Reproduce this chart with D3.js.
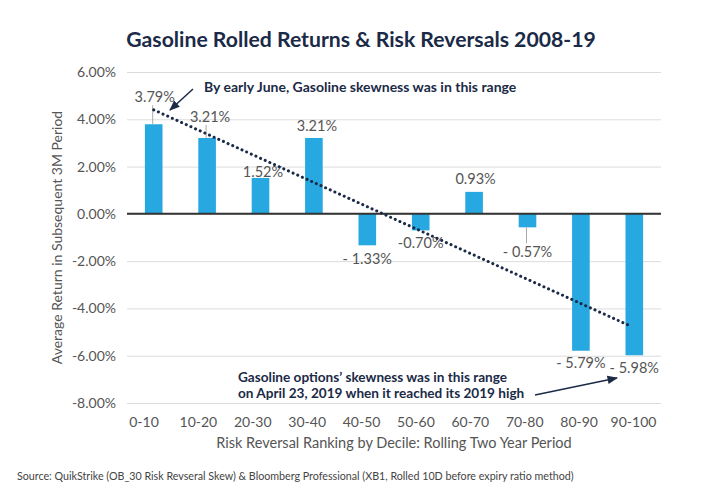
<!DOCTYPE html>
<html>
<head>
<meta charset="utf-8">
<script src="https://cdn.jsdelivr.net/npm/d3@7"></script>
<style>
  body { margin: 0; background: #fff; }
  text { font-family: Lato, "Open Sans", sans-serif; }
</style>
</head>
<body>
<div id="chart-area"></div>
<script>
// data
let deciles = ["0-10", "10-20", "20-30", "30-40", "40-50", "50-60", "60-70", "70-80", "80-90", "90-100"];
let returns = [3.79, 3.21, 1.52, 3.21, -1.33, -0.70, 0.93, -0.57, -5.79, -5.98];
let valueLabels = ["3.79%", "3.21%", "1.52%", "3.21%", "- 1.33%", "-0.70%", "0.93%", "- 0.57%", "- 5.79%", "- 5.98%"];
let yTicks = [6, 4, 2, 0, -2, -4, -6, -8];

// label nudges [dx, dy] from bar end, and which labels get a leader line
let labelNudge = [[1, -22], [3, -16], [2.5, -1], [3, -7], [0, 19], [0, 18], [1.5, -8], [0, 30], [0, 17], [0, 18]];
let leader = [true, true, false, false, false, false, false, true, false, false];

let w = 720, h = 500;
let pLeft = 127, pRight = 661, pTop = 72, pBottom = 403;
let navy = "#1b2a47";
let grey = "#555";

let svg = d3.select("#chart-area")
  .append("svg")
  .attr("width", w)
  .attr("height", h);

// scales
let x = d3.scaleBand()
  .domain(deciles)
  .range([pLeft, pRight])
  .paddingInner(0.67)
  .paddingOuter(0.335);

// category labels sit on a slightly wider spacing than the bars in the original
let xLab = d3.scalePoint()
  .domain(deciles)
  .range([143.5, 633]);

let y = d3.scaleLinear()
  .domain([-8, 6])
  .range([pBottom, pTop]);

// title
svg.append("text")
  .attr("x", 361).attr("y", 47)
  .attr("text-anchor", "middle")
  .attr("font-size", 21.2).attr("font-weight", 700)
  .attr("fill", navy)
  .text("Gasoline Rolled Returns & Risk Reversals 2008-19");

// gridlines + y labels
let yAxis = d3.axisLeft(y)
  .tickValues(yTicks)
  .tickSize(-(pRight - pLeft))
  .tickPadding(11)
  .tickFormat(d => d.toFixed(2) + "%");

let gy = svg.append("g")
  .attr("transform", "translate(" + pLeft + ",0)")
  .call(yAxis);
gy.select(".domain").remove();
gy.selectAll(".tick line").attr("stroke", "#dcdcdc").attr("stroke-width", 1);
gy.selectAll(".tick text")
  .attr("font-family", "Lato, sans-serif")
  .attr("font-size", 14).attr("fill", grey);

// x labels
let xAxis = d3.axisBottom(xLab).tickSize(0).tickPadding(0);
let gx = svg.append("g")
  .attr("transform", "translate(0,427)")
  .call(xAxis);
gx.select(".domain").remove();
gx.selectAll(".tick text")
  .attr("dy", 0)
  .attr("font-family", "Lato, sans-serif")
  .attr("font-size", 14).attr("fill", grey);

// bars
svg.selectAll("rect.bar")
  .data(returns)
  .enter()
  .append("rect")
  .attr("class", "bar")
  .attr("x", (d, i) => x(deciles[i]))
  .attr("y", d => y(Math.max(0, d)))
  .attr("width", x.bandwidth())
  .attr("height", d => Math.abs(y(d) - y(0)))
  .attr("fill", "#28a8e0");

// zero line
svg.append("line")
  .attr("x1", pLeft).attr("x2", pRight)
  .attr("y1", y(0)).attr("y2", y(0))
  .attr("stroke", "#333").attr("stroke-width", 2);

// leader lines
svg.selectAll("line.leader")
  .data(returns.map((d, i) => i).filter(i => leader[i]))
  .enter()
  .append("line")
  .attr("x1", i => x(deciles[i]) + x.bandwidth() / 2 - 1)
  .attr("x2", i => x(deciles[i]) + x.bandwidth() / 2 - 1)
  .attr("y1", i => y(returns[i]))
  .attr("y2", i => returns[i] > 0 ? y(returns[i]) + labelNudge[i][1] + 3 : y(returns[i]) + labelNudge[i][1] - 14)
  .attr("stroke", "#aaa").attr("stroke-width", 1);

// value labels
svg.selectAll("text.val")
  .data(returns)
  .enter()
  .append("text")
  .attr("class", "val")
  .attr("x", (d, i) => x(deciles[i]) + x.bandwidth() / 2 + labelNudge[i][0])
  .attr("y", (d, i) => y(d) + labelNudge[i][1])
  .attr("text-anchor", "middle")
  .attr("font-size", 14.5).attr("fill", grey)
  .text((d, i) => valueLabels[i]);

// linear trendline (least squares over the deciles)
let n = returns.length;
let xs = d3.range(1, n + 1);
let mx = d3.mean(xs), my = d3.mean(returns);
let slope = d3.sum(xs, (k, i) => (k - mx) * (returns[i] - my)) / d3.sum(xs, k => (k - mx) * (k - mx));
let icpt = my - slope * mx;
let cx = k => x(deciles[k - 1]) + x.bandwidth() / 2;
svg.append("line")
  .attr("x1", cx(1)).attr("y1", y(icpt + slope * 1))
  .attr("x2", cx(n) - 4).attr("y2", y(icpt + slope * n))
  .attr("stroke", navy).attr("stroke-width", 3)
  .attr("stroke-linecap", "round")
  .attr("stroke-dasharray", "0.1,5");

// arrow marker
svg.append("defs").append("marker")
  .attr("id", "arr")
  .attr("viewBox", "0 0 10 10")
  .attr("refX", 9).attr("refY", 5)
  .attr("markerWidth", 7).attr("markerHeight", 7)
  .attr("orient", "auto")
  .append("path")
  .attr("d", "M0,1 L10,5 L0,9 Z")
  .attr("fill", navy);

// annotations
svg.append("text")
  .attr("x", 204).attr("y", 92)
  .attr("font-size", 14).attr("font-weight", 700)
  .attr("fill", navy)
  .text("By early June, Gasoline skewness was in this range");
svg.append("line")
  .attr("x1", 193).attr("y1", 89).attr("x2", 170).attr("y2", 110)
  .attr("stroke", navy).attr("stroke-width", 1.5)
  .attr("marker-end", "url(#arr)");

svg.append("text")
  .attr("x", 238).attr("y", 382)
  .attr("font-size", 13.6).attr("font-weight", 700)
  .attr("fill", navy)
  .text("Gasoline options\u2019 skewness was in this range");
svg.append("text")
  .attr("x", 238).attr("y", 398)
  .attr("font-size", 13.6).attr("font-weight", 700)
  .attr("fill", navy)
  .text("on April 23, 2019 when it reached its 2019 high");
svg.append("line")
  .attr("x1", 535).attr("y1", 395).attr("x2", 617).attr("y2", 378)
  .attr("stroke", navy).attr("stroke-width", 1.5)
  .attr("marker-end", "url(#arr)");

// axis titles
svg.append("text")
  .attr("x", 394).attr("y", 448)
  .attr("text-anchor", "middle")
  .attr("font-size", 14.5).attr("fill", grey)
  .text("Risk Reversal Ranking by Decile: Rolling Two Year Period");

svg.append("text")
  .attr("transform", "translate(62," + ((pTop + pBottom) / 2) + ") rotate(-90)")
  .attr("text-anchor", "middle")
  .attr("font-size", 14).attr("fill", grey)
  .text("Average Return in Subsequent 3M Period");

// source
svg.append("text")
  .attr("x", 17).attr("y", 480)
  .attr("font-size", 10.7).attr("fill", "#444")
  .text("Source: QuikStrike (OB_30 Risk Revseral Skew) & Bloomberg Professional (XB1, Rolled 10D before expiry ratio method)");
</script>
</body>
</html>
